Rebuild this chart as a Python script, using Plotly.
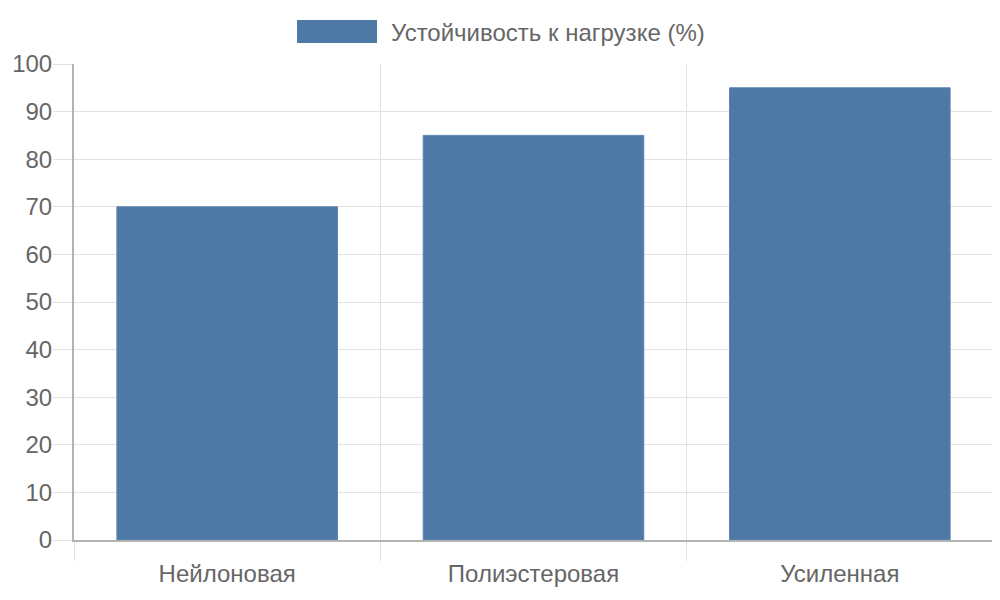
import plotly.graph_objects as go

categories = ["Нейлоновая", "Полиэстеровая", "Усиленная"]
values = [70, 85, 95]
series_name = "Устойчивость к нагрузке (%)"

bar_color = "#4e79a7"
grid_color = "#e2e2e2"
axis_color = "#b3b3b3"
text_color = "#666666"
font_family = "Liberation Sans, Arial, sans-serif"

fig = go.Figure()
fig.add_trace(go.Bar(
    x=categories,
    y=values,
    name=series_name,
    marker=dict(color=bar_color, line=dict(color="#5a84b0", width=1)),
    width=0.72,
    showlegend=False,
))

# legend drawn by hand so the colour box matches the wide swatch
fig.add_shape(type="rect", xref="paper", yref="paper",
              x0=0.2427, x1=0.3297, y0=1.0441, y1=1.0924,
              fillcolor=bar_color, line_width=0)
fig.add_annotation(text=series_name, xref="paper", yref="paper",
                   x=0.3428, y=1.0672, xanchor="left", yanchor="middle",
                   showarrow=False, font=dict(size=24, color=text_color, family=font_family))

# page body has an 8px margin, so margins are shifted by that amount
fig.update_layout(
    width=1000, height=600,
    margin=dict(l=66, r=15, t=56, b=68, autoexpand=False),
    plot_bgcolor="white", paper_bgcolor="white",
    font=dict(family=font_family, size=24, color=text_color),
)
fig.update_xaxes(
    type="category",
    tickson="boundaries",
    showgrid=True, gridcolor=grid_color, gridwidth=1,
    ticks="outside", ticklen=19, tickcolor=grid_color,
    ticklabelstandoff=11,
    showline=True, linecolor=axis_color, linewidth=2,
    tickfont=dict(size=24, color=text_color),
    automargin=False,
)
fig.update_yaxes(
    range=[0, 100], dtick=10,
    showgrid=True, gridcolor=grid_color, gridwidth=1,
    ticks="outside", ticklen=19, tickcolor=grid_color,
    ticklabelstandoff=-4,
    showline=True, linecolor=axis_color, linewidth=2,
    zeroline=False,
    tickfont=dict(size=24, color=text_color),
    automargin=False,
)

fig.write_html("out.html")
